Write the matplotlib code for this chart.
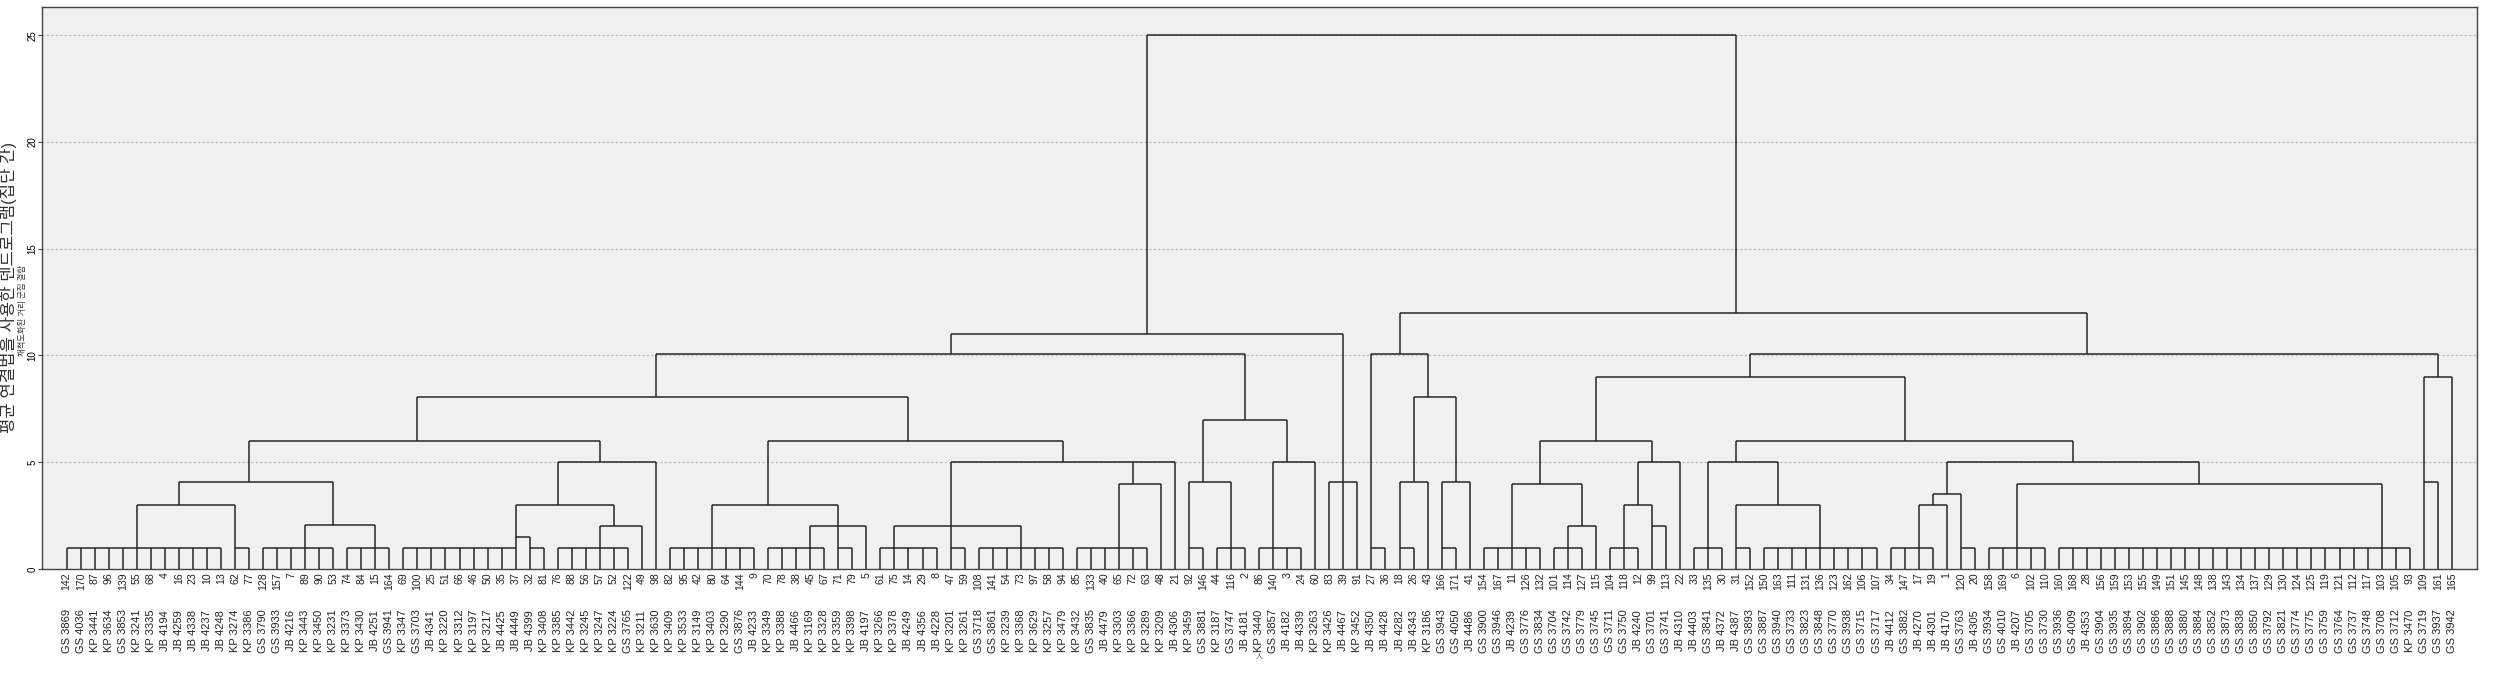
import matplotlib.pyplot as plt

plt.rcParams['font.family'] = ['Liberation Sans', 'Noto Sans CJK KR']

# leaf order as drawn (case number, case label)
case_no = [142, 170, 87, 96, 139, 55, 68, 4, 16, 23, 10, 13, 62, 77, 128, 157,
           7, 89, 90, 53, 74, 84, 15, 164, 69, 100, 25, 51, 66, 46, 50, 35, 37,
           32, 81, 76, 88, 56, 57, 52, 122, 49, 98, 82, 95, 42, 80, 64, 144, 9,
           70, 78, 38, 45, 67, 71, 79, 5, 61, 75, 14, 29, 8, 47, 59, 108, 141,
           54, 73, 97, 58, 94, 85, 133, 40, 65, 72, 63, 48, 21, 92, 146, 44, 116,
           2, 86, 140, 3, 24, 60, 83, 39, 91, 27, 36, 18, 26, 43, 166, 171, 41,
           154, 167, 11, 126, 132, 101, 114, 127, 115, 104, 118, 12, 99, 113, 22, 33, 135,
           30, 31, 152, 150, 163, 111, 131, 136, 123, 162, 106, 107, 34, 147, 17, 19, 1,
           120, 20, 158, 169, 6, 102, 110, 160, 168, 28, 156, 159, 153, 155, 149, 151, 145,
           148, 138, 143, 134, 137, 129, 130, 124, 125, 119, 121, 112, 117, 103, 105, 93,
           109, 161, 165]

case_name = ['GS 3869', 'GS 4036', 'KP 3441', 'KP 3634', 'GS 3853', 'KP 3241', 'KP 3335',
             'JB 4194', 'JB 4259', 'JB 4338', 'JB 4237', 'JB 4248', 'KP 3274', 'KP 3386',
             'GS 3790', 'GS 3933', 'JB 4216', 'KP 3443', 'KP 3450', 'KP 3231', 'KP 3373',
             'KP 3430', 'JB 4251', 'GS 3941', 'KP 3347', 'GS 3703', 'JB 4341', 'KP 3220',
             'KP 3312', 'KP 3197', 'KP 3217', 'JB 4425', 'JB 4449', 'JB 4399', 'KP 3408',
             'KP 3385', 'KP 3442', 'KP 3245', 'KP 3247', 'KP 3224', 'GS 3765', 'KP 3211',
             'KP 3630', 'KP 3409', 'KP 3533', 'KP 3149', 'KP 3403', 'KP 3290', 'GS 3876',
             'JB 4233', 'KP 3349', 'KP 3388', 'JB 4466', 'KP 3169', 'KP 3328', 'KP 3359',
             'KP 3398', 'JB 4197', 'KP 3266', 'KP 3378', 'JB 4249', 'JB 4356', 'JB 4228',
             'KP 3201', 'KP 3261', 'GS 3718', 'GS 3861', 'KP 3239', 'KP 3368', 'KP 3629',
             'KP 3257', 'KP 3479', 'KP 3432', 'GS 3835', 'JB 4479', 'KP 3303', 'KP 3366',
             'KP 3289', 'KP 3209', 'JB 4306', 'KP 3459', 'GS 3881', 'KP 3187', 'GS 3747',
             'JB 4181', 'KP 3440', 'GS 3857', 'JB 4182', 'JB 4339', 'KP 3263', 'KP 3426',
             'JB 4467', 'KP 3452', 'JB 4350', 'JB 4428', 'JB 4282', 'JB 4343', 'KP 3186',
             'GS 3943', 'GS 4050', 'JB 4486', 'GS 3900', 'GS 3946', 'JB 4239', 'GS 3776',
             'GS 3834', 'GS 3704', 'GS 3742', 'GS 3779', 'GS 3745', 'GS 3711', 'GS 3750',
             'JB 4240', 'GS 3701', 'GS 3741', 'JB 4310', 'JB 4403', 'GS 3841', 'JB 4372',
             'JB 4387', 'GS 3893', 'GS 3887', 'GS 3940', 'GS 3733', 'GS 3823', 'GS 3848',
             'GS 3770', 'GS 3938', 'GS 3715', 'GS 3717', 'JB 4412', 'GS 3882', 'JB 4270',
             'JB 4301', 'JB 4170', 'GS 3763', 'JB 4305', 'GS 3934', 'GS 4010', 'JB 4207',
             'GS 3705', 'GS 3730', 'GS 3936', 'GS 4009', 'JB 4353', 'GS 3904', 'GS 3935',
             'GS 3894', 'GS 3902', 'GS 3886', 'GS 3888', 'GS 3880', 'GS 3884', 'GS 3852',
             'GS 3873', 'GS 3838', 'GS 3850', 'GS 3792', 'GS 3821', 'GS 3774', 'GS 3775',
             'GS 3759', 'GS 3764', 'GS 3737', 'GS 3748', 'GS 3708', 'GS 3712', 'KP 3470',
             'GS 3719', 'GS 3937', 'GS 3942']


def grp(a, b, at, h=1.0):
    # leaves a..b (positions) joined at the lowest level, cluster line rises from leaf `at`
    return ('g', h, a, b, at)


# merge tree: [height, child, child, ...]; ints are leaf positions
left_tree = [11.0,
             [10.06,
              [8.04,
               [6.0,
                [4.06, [3.0, grp(0, 11, 5), grp(12, 13, 12)],
                       [2.06, grp(14, 19, 17), grp(20, 23, 22)]],
                [5.0, [3.0, [1.5, grp(24, 32, 32), grp(33, 34, 33)],
                            [2.0, grp(35, 40, 38), 41]], 42]],
               [6.0,
                [3.0, grp(43, 49, 46), [2.0, grp(50, 54, 53), grp(55, 56, 55), 57]],
                [5.0, [2.0, grp(58, 62, 59), grp(63, 64, 63), grp(65, 71, 68)],
                      [4.0, grp(72, 77, 75), 78], 79]]],
              [7.0,
               [4.06, grp(80, 81, 80), grp(82, 84, 83)],
               [5.0, grp(85, 88, 86), 89]]],
             [4.06, 90, 91, 92]]

right_tree = [12.0,
              [10.06, grp(93, 94, 93),
               [8.04, [4.06, grp(95, 96, 95), 97], [4.06, grp(98, 99, 98), 100]]],
              [10.06,
               [9.0,
                [6.0,
                 [4.0, grp(101, 105, 103), [2.0, grp(106, 108, 107), 109]],
                 [5.0, [3.0, grp(110, 112, 111), [2.0, 113, 114]], 115]],
                [6.0,
                 [5.0, grp(116, 118, 117), [3.0, grp(119, 120, 119), grp(121, 129, 125)]],
                 [5.0,
                  [3.5, [3.0, grp(130, 133, 132), 134], grp(135, 136, 135)],
                  [4.0, grp(137, 141, 139), grp(142, 167, 165)]]]],
               [9.0, [4.06, 168, 169], 170]]]

root_height = 25.0

line_kw = dict(color='#262626', lw=1.1, solid_capstyle='butt')


def draw(ax, node):
    """Draw a subtree, return (x, top) of the line that leaves it upwards."""
    if isinstance(node, int):
        return node, 0.0
    if isinstance(node, tuple):
        _, h, a, b, at = node
        for i in range(a, b + 1):
            ax.plot([i, i], [0, h], **line_kw)
        ax.plot([a, b], [h, h], **line_kw)
        return at, h
    h = node[0]
    xs = []
    for child in node[1:]:
        cx, cy = draw(ax, child)
        ax.plot([cx, cx], [cy, h], **line_kw)
        xs.append(cx)
    ax.plot([min(xs), max(xs)], [h, h], **line_kw)
    return (xs[0] + xs[-1]) // 2, h


fig = plt.figure(figsize=(25.02, 6.75), dpi=100)
ax = fig.add_axes([42 / 2502, 106 / 675, 2435 / 2502, 562 / 675])
ax.set_facecolor('#f0f0f0')

lx, ly = draw(ax, left_tree)
rx, ry = draw(ax, right_tree)
ax.plot([lx, lx], [ly, root_height], **line_kw)
ax.plot([rx, rx], [ry, root_height], **line_kw)
ax.plot([lx, rx], [root_height, root_height], **line_kw)

n = len(case_no)
ax.set_xlim(-1.76, n - 1 + 1.8)
ax.set_ylim(0, 26.32)
ax.set_xticks([])
ax.set_yticks([0, 5, 10, 15, 20, 25])
ax.tick_params(axis='y', labelsize=7, length=3, width=0.8, color='#444444',
               labelrotation=90, pad=0.5)
for lab in ax.get_yticklabels():
    lab.set_va('center')
for y in [5, 10, 15, 20, 25]:
    ax.axhline(y, color='#b8b8b8', lw=0.8, ls=(0, (2, 2)), zorder=0)
for s in ax.spines.values():
    s.set_color('#444444')
    s.set_linewidth(1.0)

trans = ax.get_xaxis_transform()
for i in range(n):
    ax.text(i, -0.006, str(case_no[i]), transform=trans, rotation=90,
            ha='center', va='top', fontsize=7.6, color='#222222', clip_on=False)
    ax.text(i, -0.110, case_name[i], transform=trans, rotation=90,
            ha='center', va='center', fontsize=8, color='#222222', clip_on=False)

# small mark under the leaves, centred on the axes
ax.text(0.5, -0.158, '人', transform=ax.transAxes, ha='center', va='center',
        fontsize=5, color='#444444')

fig.text(8.5 / 2502, 1 - 287 / 675, '평균 연결법을 사용한 덴드로그램(집단 간)', rotation=90,
         ha='center', va='center', fontsize=12, color='#333333')
fig.text(23 / 2502, 1 - 310 / 675, '재척도화된 거리 군집 결합', rotation=90,
         ha='center', va='center', fontsize=6, color='#333333')

fig.savefig('out.png', dpi=100)
